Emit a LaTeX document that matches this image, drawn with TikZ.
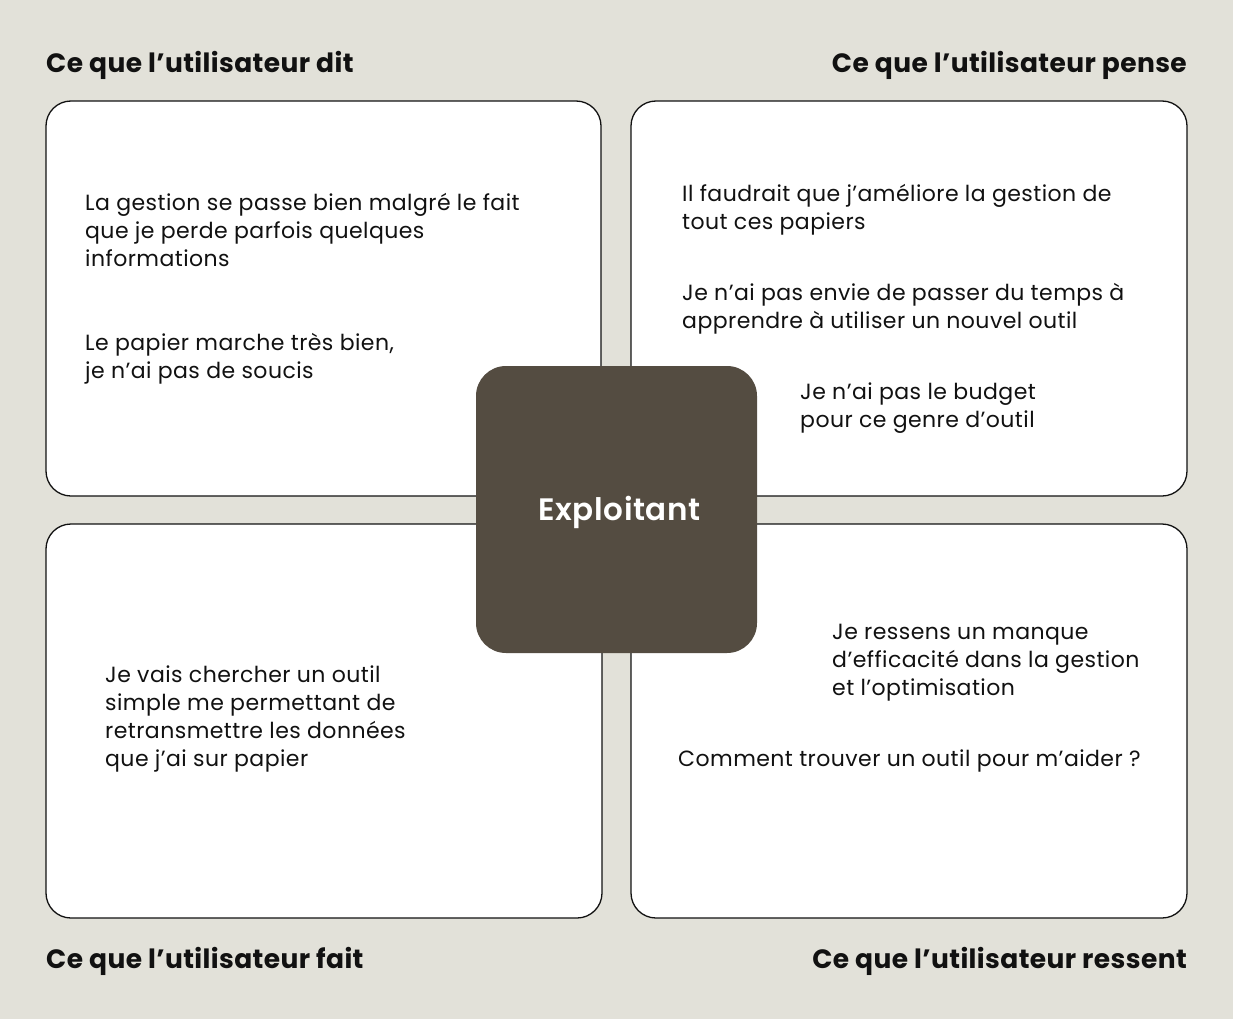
\documentclass[tikz,border=0pt]{standalone}
\usepackage{fontspec}
\setmainfont{Poppins}[LetterSpace=2]
\newfontfamily\popmed{Poppins SemiBold}[LetterSpace=2]
\newfontfamily\popbold{Poppins Bold}[LetterSpace=1.5]
\definecolor{bg}{HTML}{E2E1D9}
\definecolor{dark}{HTML}{544C41}
\definecolor{ink}{HTML}{111111}
\begin{document}
\begin{tikzpicture}[x=1pt,y=-1pt,
  quad/.style={draw=ink,line width=1.3pt,fill=white,rounded corners=25pt,inner sep=0pt},
  hub/.style={fill=dark,rounded corners=30pt,inner sep=0pt,minimum width=281pt,minimum height=287pt},
  hubtxt/.style={inner sep=0pt,text=white,font=\popmed\fontsize{31}{38}\selectfont},
  head/.style={inner sep=0pt,text=ink,font=\popbold\fontsize{26.5}{32}\selectfont},
  say/.style={inner sep=0pt,anchor=west,align=left,text=ink,font=\fontsize{22}{28}\selectfont}]
\fill[bg] (0,0) rectangle (1233,1019);
\useasboundingbox (0,0) rectangle (1233,1019);
% quadrants
\node[quad,minimum width=555pt,minimum height=395pt] (dit) at (323.5,298.5) {};
\node[quad,minimum width=556pt,minimum height=395pt] (pense) at (909,298.5) {};
\node[quad,minimum width=556pt,minimum height=394pt] (fait) at (324,721) {};
\node[quad,minimum width=556pt,minimum height=394pt] (ressent) at (909,721) {};
% centre
\node[hub,label={[hubtxt,xshift=3pt,yshift=-3pt]center:Exploitant}] (exp) at (616.5,509.5) {};
% headers
\node[head,anchor=west] (hdit) at (46,65) {Ce que l’utilisateur dit};
\node[head,anchor=east] (hpense) at (1187,65) {Ce que l’utilisateur pense};
\node[head,anchor=west] (hfait) at (46,961) {Ce que l’utilisateur fait};
\node[head,anchor=east] (hressent) at (1187,961) {Ce que l’utilisateur ressent};
% texts
\node[say] (t1) at (85,230) {La gestion se passe bien malgré le fait\\que je perde parfois quelques\\informations};
\node[say] (t2) at (85,359) {Le papier marche très bien,\\je n’ai pas de soucis};
\node[say] (t3) at (682,210) {Il faudrait que j’améliore la gestion de\\tout ces papiers};
\node[say] (t4) at (682,309) {Je n’ai pas envie de passer du temps à\\apprendre à utiliser un nouvel outil};
\node[say] (t5) at (800,408) {Je n’ai pas le budget\\pour ce genre d’outil};
\node[say] (t6) at (105,719) {Je vais chercher un outil\\simple me permettant de\\retransmettre les données\\que j’ai sur papier};
\node[say] (t7) at (832,663) {Je ressens un manque\\d’efficacité dans la gestion\\et l’optimisation};
\node[say] (t8) at (678,761) {Comment trouver un outil pour m’aider ?};
\end{tikzpicture}
\end{document}
